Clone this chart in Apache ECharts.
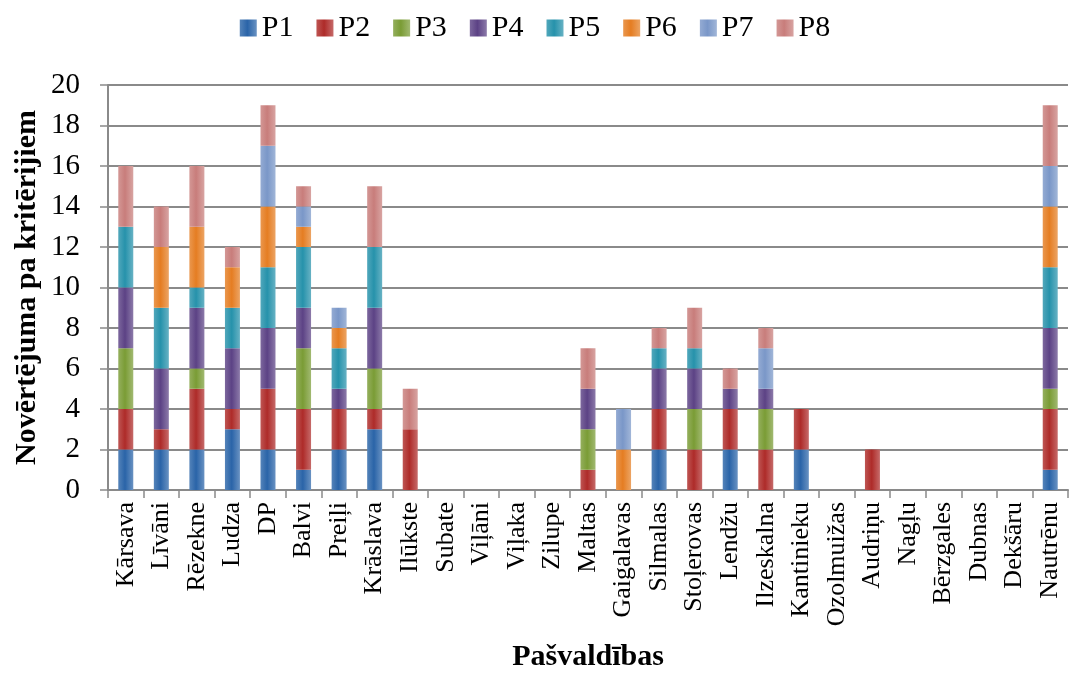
<!DOCTYPE html>
<html>
<head>
<meta charset="utf-8">
<script src="https://cdn.jsdelivr.net/npm/echarts@6/dist/echarts.min.js"></script>
<style>
  html, body { margin: 0; padding: 0; background: #fff; }
  #chart { width: 1070px; height: 682px; }
</style>
</head>
<body>
<div id="chart"></div>
<script>
// pašvaldības
const categories = ['Kārsava', 'Līvāni', 'Rēzekne', 'Ludza', 'DP', 'Balvi', 'Preiļi', 'Krāslava', 'Ilūkste',
  'Subate', 'Viļāni', 'Viļaka', 'Zilupe', 'Maltas', 'Gaigalavas', 'Silmalas', 'Stoļerovas', 'Lendžu',
  'Ilzeskalna', 'Kantinieku', 'Ozolmuižas', 'Audriņu', 'Nagļu', 'Bērzgales', 'Dubnas', 'Dekšāru', 'Nautrēnu']

// kritēriji P1..P8
const p1 = [2, 2, 2, 3, 2, 1, 2, 3, 0, 0, 0, 0, 0, 0, 0, 2, 0, 2, 0, 2, 0, 0, 0, 0, 0, 0, 1]
const p2 = [2, 1, 3, 1, 3, 3, 2, 1, 3, 0, 0, 0, 0, 1, 0, 2, 2, 2, 2, 2, 0, 2, 0, 0, 0, 0, 3]
const p3 = [3, 0, 1, 0, 0, 3, 0, 2, 0, 0, 0, 0, 0, 2, 0, 0, 2, 0, 2, 0, 0, 0, 0, 0, 0, 0, 1]
const p4 = [3, 3, 3, 3, 3, 2, 1, 3, 0, 0, 0, 0, 0, 2, 0, 2, 2, 1, 1, 0, 0, 0, 0, 0, 0, 0, 3]
const p5 = [3, 3, 1, 2, 3, 3, 2, 3, 0, 0, 0, 0, 0, 0, 0, 1, 1, 0, 0, 0, 0, 0, 0, 0, 0, 0, 3]
const p6 = [0, 3, 3, 2, 3, 1, 1, 0, 0, 0, 0, 0, 0, 0, 2, 0, 0, 0, 0, 0, 0, 0, 0, 0, 0, 0, 3]
const p7 = [0, 0, 0, 0, 3, 1, 1, 0, 0, 0, 0, 0, 0, 0, 2, 0, 0, 0, 2, 0, 0, 0, 0, 0, 0, 0, 2]
const p8 = [3, 2, 3, 1, 2, 1, 0, 3, 2, 0, 0, 0, 0, 2, 0, 1, 2, 1, 1, 0, 0, 0, 0, 0, 0, 0, 3]

const seriesNames = ['P1', 'P2', 'P3', 'P4', 'P5', 'P6', 'P7', 'P8']
const seriesData = [p1, p2, p3, p4, p5, p6, p7, p8]
const colorList = ['#2A64A8', '#AE2B29', '#7A9C35', '#5C4285', '#2692AB', '#E57D22', '#7A97C8', '#C87D7B']

const font = '"Liberation Serif", "Times New Roman", serif'

// stabiņu "reljefs" - tumšas malas, gaišāks vidus
function bevel(c) {
  return new echarts.graphic.LinearGradient(0, 0, 1, 0, [
    { offset: 0, color: echarts.color.lift(c, 0.2) },
    { offset: 0.45, color: c },
    { offset: 1, color: echarts.color.lift(c, 0.3) }
  ])
}

const myChart = echarts.init(document.getElementById('chart'))

const option = {
  animation: false,
  color: colorList,
  legend: {
    top: 8,
    left: 'center',
    itemWidth: 17,
    itemHeight: 17,
    itemGap: 23,
    icon: 'rect',
    textStyle: { fontFamily: font, fontSize: 30, color: '#000', padding: [0, 0, 0, 0] },
    data: seriesNames
  },
  grid: {
    left: 108,
    right: 2,
    top: 85,
    bottom: 192,
    outerBoundsMode: 'none'
  },
  xAxis: {
    type: 'category',
    data: categories,
    name: 'Pašvaldības',
    nameLocation: 'middle',
    nameGap: 152,
    nameMoveOverlap: false,
    nameTextStyle: { fontFamily: font, fontSize: 30, fontWeight: 'bold', color: '#000' },
    axisLine: { lineStyle: { color: '#8a8a8a', width: 2 } },
    axisTick: { show: true, length: 8, lineStyle: { color: '#8a8a8a', width: 1.5 } },
    axisLabel: {
      rotate: 90,
      interval: 0,
      margin: 12,
      fontFamily: font,
      fontSize: 26,
      color: '#000'
    }
  },
  yAxis: {
    type: 'value',
    min: 0,
    max: 20,
    interval: 2,
    name: 'Novērtējuma pa kritērijiem',
    nameLocation: 'middle',
    nameGap: 66,
    nameMoveOverlap: false,
    nameTextStyle: { fontFamily: font, fontSize: 30, fontWeight: 'bold', color: '#000' },
    axisLine: { show: true, lineStyle: { color: '#8a8a8a', width: 2 } },
    axisTick: { show: true, length: 8, lineStyle: { color: '#8a8a8a', width: 1.5 } },
    axisLabel: { fontFamily: font, fontSize: 29, color: '#000', margin: 28 },
    splitLine: { show: true, lineStyle: { color: '#8a8a8a', width: 2 } }
  },
  series: seriesNames.map(function (name, i) {
    return {
      name: name,
      type: 'bar',
      stack: 'total',
      barWidth: 15,
      data: seriesData[i],
      itemStyle: {
        color: bevel(colorList[i]),
        borderWidth: 0
      }
    }
  })
}

myChart.setOption(option)
</script>
</body>
</html>
